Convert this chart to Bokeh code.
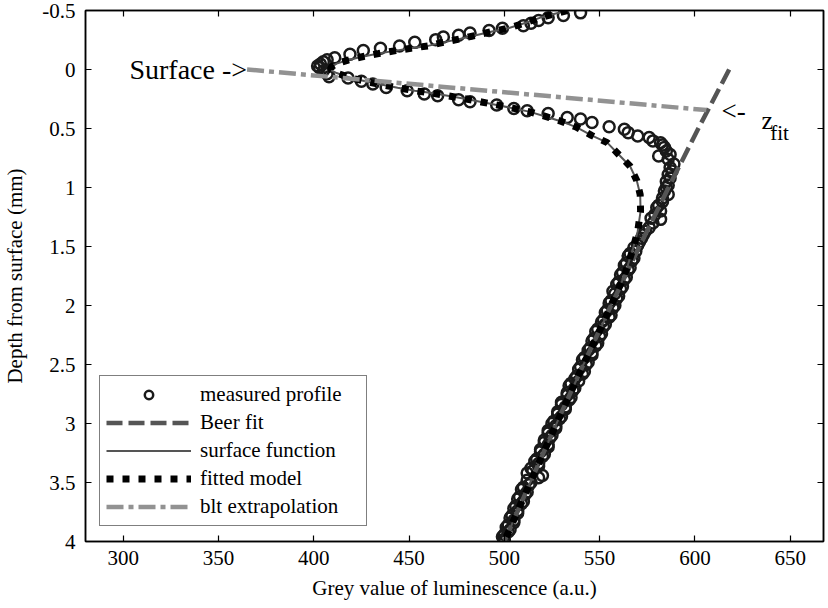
from bokeh.plotting import figure
from bokeh.models import (Range1d, LinearAxis, FixedTicker, CustomJSTickFormatter,
                          Legend, LegendItem, ColumnDataSource)
from bokeh.core.properties import value
from bokeh.embed import file_html
from bokeh.resources import INLINE

FONT = "Liberation Serif"

# ---- measured profile (grey value vs depth) ----
meas_depth = [-0.48, -0.457, -0.438, -0.415, -0.392, -0.37, -0.35, -0.33, -0.31, -0.29,
              -0.275, -0.253, -0.23, -0.2, -0.18, -0.16, -0.13, -0.1, -0.083, -0.065,
              -0.047, -0.03, -0.015,
              0.01, 0.035, 0.061, 0.072, 0.1, 0.123, 0.152, 0.18, 0.208, 0.223,
              0.257, 0.274, 0.3, 0.33, 0.35, 0.373, 0.407, 0.42, 0.45,
              0.486, 0.506, 0.535, 0.563, 0.577, 0.605, 0.62, 0.64, 0.66, 0.69,
              0.72, 0.733, 0.76, 0.8, 0.83, 0.86, 0.89, 0.92, 0.95, 0.98,
              1.0, 1.03, 1.06, 1.09, 1.12, 1.15, 1.17, 1.2, 1.23, 1.26,
              1.27, 1.3, 1.34, 1.37, 1.4, 1.43, 1.46, 1.49, 1.51,
              1.54, 1.58, 1.62, 1.66, 1.70, 1.74, 1.78, 1.82, 1.86, 1.90,
              1.94, 1.98, 2.02, 2.06, 2.10, 2.14, 2.18, 2.22, 2.26, 2.30,
              2.34, 2.38, 2.42, 2.46, 2.50, 2.54, 2.58, 2.62, 2.66, 2.70,
              2.74, 2.78, 2.82, 2.86, 2.90, 2.94, 2.98, 3.02, 3.06, 3.10,
              3.14, 3.18, 3.22, 3.26, 3.30, 3.34, 3.38, 3.42, 3.46, 3.50,
              3.54, 3.58, 3.62, 3.66, 3.70, 3.74, 3.78, 3.82, 3.86, 3.90,
              3.94, 3.98]
meas_grey = [540, 531, 523, 518, 514, 510, 499, 492, 482, 476,
             468, 464, 453, 445, 435, 426, 419, 411, 407, 405,
             403.5, 402, 403,
             405, 407, 408, 418, 425, 431, 438, 449, 458, 465,
             476, 482, 496, 505, 512, 523, 533, 540, 546,
             555, 563, 565, 570, 576, 578, 582, 583, 584, 585,
             587, 581, 586, 589, 587, 588, 586, 587, 585, 586,
             585, 584, 586, 583, 583, 581, 580, 582, 579, 577,
             582, 578, 576, 574, 573, 572, 571, 570, 568,
             569, 565, 567, 563, 565, 561, 563, 559, 561, 558,
             559, 555, 557, 553, 555, 551, 552, 548, 550, 546,
             548, 544, 546, 541, 543, 539, 541, 537, 535, 537,
             533, 535, 530, 532, 528, 530, 526, 527, 523, 525,
             521, 523, 519, 521, 517, 518, 514, 512, 518, 514,
             510, 512, 508, 510, 506, 507, 504, 505, 502, 503,
             500, 500]
# interleaved samples of the deep part
meas_depth_b = [1.56, 1.60, 1.64, 1.68, 1.72, 1.76, 1.80, 1.84, 1.88, 1.92,
                1.96, 2.00, 2.04, 2.08, 2.12, 2.16, 2.20, 2.24, 2.28, 2.32,
                2.36, 2.40, 2.44, 2.48, 2.52, 2.56, 2.60, 2.64, 2.68, 2.72,
                2.76, 2.80, 2.84, 2.88, 2.92, 2.96, 3.00, 3.04, 3.08, 3.12,
                3.16, 3.20, 3.24, 3.28, 3.32, 3.36, 3.40, 3.44, 3.48, 3.52,
                3.56, 3.60, 3.64, 3.68, 3.72, 3.76, 3.80, 3.84, 3.88, 3.92,
                3.96, 4.00]
meas_grey_b = [566, 568, 564, 566, 562, 564, 560, 562, 557, 560,
               556, 558, 554, 556, 552, 553, 549, 551, 547, 549,
               545, 546, 542, 544, 540, 542, 538, 539, 534, 536,
               533, 534, 530, 532, 528, 529, 525, 527, 523, 524,
               521, 523, 519, 520, 516, 518, 515, 520, 512, 513,
               509, 511, 507, 509, 505, 507, 503, 505, 501, 502,
               499, 500]

# ---- Beer fit ----
beer_depth = [0.0, 0.5, 1.0, 1.5, 2.0, 2.5, 3.0, 3.5, 4.0]
beer_grey = [618, 601.8, 586.2, 570.9, 556, 541.5, 527.4, 513.6, 500]

# ---- surface function / fitted model ----
model_depth = [-0.5, -0.44, -0.39, -0.35, -0.32, -0.29, -0.26, -0.23, -0.2, -0.18,
               -0.16, -0.135, -0.11, -0.08, -0.05, -0.02, 0.005, 0.03, 0.07, 0.11,
               0.155, 0.18, 0.2, 0.225, 0.25, 0.275, 0.3, 0.33, 0.357, 0.4,
               0.44, 0.49, 0.56, 0.62, 0.72, 0.82, 0.94, 1.06, 1.2, 1.37,
               1.52, 1.75, 2.0, 2.25, 2.5, 2.75, 3.0, 3.25, 3.5, 3.75, 4.0]
model_grey = [533, 519, 510, 502, 493, 485, 477, 468, 460, 451,
              443, 434, 426, 418, 412, 409, 409, 412, 419, 430,
              444, 453, 462, 471, 480, 488, 496, 505, 513, 522,
              530, 538, 546, 554, 560, 566, 569.5, 571.3, 571.5, 570,
              567.5, 563, 556, 549, 541.5, 534.5, 527.4, 520.5, 513.6, 506.8, 500]

# ---- blt extrapolation ----
blt_depth = [0.0, 0.344]
blt_grey = [365, 606]

x_ticks = [300, 350, 400, 450, 500, 550, 600, 650]
y_ticks = [-0.5, 0, 0.5, 1, 1.5, 2, 2.5, 3, 3.5, 4]

p = figure(width=828, height=608, output_backend="svg", toolbar_location=None,
           x_range=Range1d(280.2, 667.5), y_range=Range1d(4, -0.5),
           min_border_left=85, min_border_right=5, min_border_top=10, min_border_bottom=67,
           background_fill_color="white", border_fill_color="white")
p.grid.visible = False
p.outline_line_color = "black"
p.outline_line_width = 1.5

fmt = CustomJSTickFormatter(code="return tick.toString();")
blank = CustomJSTickFormatter(code="return '';")

def style_axis(ax, ticks, labels=True):
    ax.ticker = FixedTicker(ticks=ticks)
    ax.major_tick_in = 6
    ax.major_tick_out = 0
    ax.minor_tick_line_color = None
    ax.major_tick_line_color = "black"
    ax.major_tick_line_width = 1.2
    ax.axis_line_color = "black"
    ax.axis_line_width = 1.5
    if labels:
        ax.formatter = fmt
        ax.major_label_text_font = FONT
        ax.major_label_text_font_size = "21px"
        ax.major_label_text_color = "black"
        ax.axis_label_text_font = FONT
        ax.axis_label_text_font_size = "21px"
        ax.axis_label_text_font_style = "normal"
        ax.axis_label_text_color = "black"
    else:
        ax.formatter = blank
        ax.major_label_standoff = 0

xb = p.xaxis[0]
yl = p.yaxis[0]
style_axis(xb, x_ticks)
style_axis(yl, y_ticks)
xb.axis_label = "Grey value of luminescence (a.u.)"
yl.axis_label = "Depth from surface (mm)"
xb.major_label_standoff = 9
xb.axis_label_standoff = 8
yl.major_label_standoff = 10
yl.axis_label_standoff = 12

xt = LinearAxis()
style_axis(xt, x_ticks, labels=False)
p.add_layout(xt, "above")
yr = LinearAxis()
style_axis(yr, y_ticks, labels=False)
p.add_layout(yr, "right")

r_meas = p.scatter(meas_grey + meas_grey_b, meas_depth + meas_depth_b, marker="circle",
                   size=11, fill_color=None, line_color="#1a1a1a", line_width=2.5)
r_beer = p.line(beer_grey, beer_depth, line_color="#555555", line_width=4.5,
                line_dash="16 6")
r_surf = p.line(model_grey, model_depth, line_color="#555555", line_width=2)
r_fit = p.line(model_grey, model_depth, line_color="black", line_width=7,
               line_dash="7 9")
r_blt = p.line(blt_grey, blt_depth, line_color="#929292", line_width=4.5,
               line_dash="17 5 5 5")

ann = ColumnDataSource(dict(x=[365], y=[0.0], t=["Surface ->"]))
p.text(x="x", y="y", text="t", source=ann, text_font=value(FONT), text_font_size="28px",
       text_align="right", text_baseline="middle", text_color="black")
ann2 = ColumnDataSource(dict(x=[614], y=[0.35], t=["<-"]))
p.text(x="x", y="y", text="t", source=ann2, text_font=value(FONT), text_font_size="27px",
       text_align="left", text_baseline="middle", text_color="black")
ann3 = ColumnDataSource(dict(x=[635], y=[0.435], t=["z"]))
p.text(x="x", y="y", text="t", source=ann3, text_font=value(FONT), text_font_size="26px",
       text_align="left", text_baseline="alphabetic", text_color="black")
ann4 = ColumnDataSource(dict(x=[639.5], y=[0.535], t=["fit"]))
p.text(x="x", y="y", text="t", source=ann4, text_font=value(FONT), text_font_size="21px",
       text_align="left", text_baseline="alphabetic", text_color="black")

legend = Legend(items=[
    LegendItem(label="measured profile", renderers=[r_meas]),
    LegendItem(label="Beer fit", renderers=[r_beer]),
    LegendItem(label="surface function", renderers=[r_surf]),
    LegendItem(label="fitted model", renderers=[r_fit]),
    LegendItem(label="blt extrapolation", renderers=[r_blt]),
], location=(14, 15))
legend.label_text_font = FONT
legend.label_text_font_size = "21px"
legend.label_text_color = "black"
legend.glyph_width = 85
legend.glyph_height = 21
legend.label_height = 21
legend.label_width = 160
legend.label_standoff = 9
legend.spacing = 3
legend.padding = 6
legend.margin = 0
legend.border_line_color = "black"
legend.border_line_width = 1.5
legend.background_fill_color = "white"
legend.background_fill_alpha = 1.0
p.add_layout(legend)

open("out.html", "w").write(file_html(p, INLINE))
